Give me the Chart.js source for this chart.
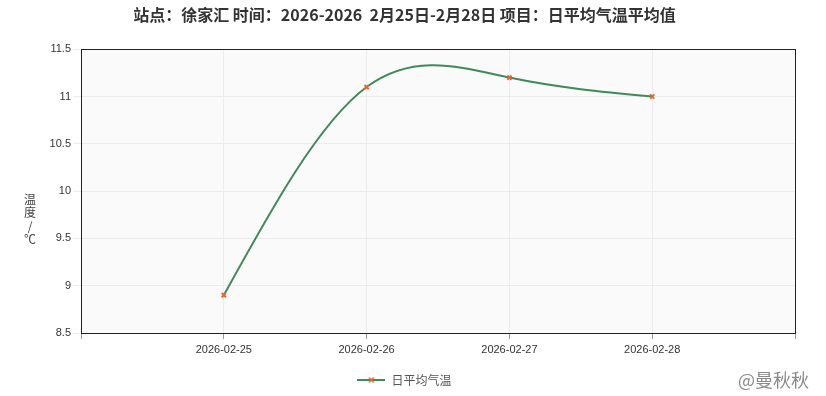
<!DOCTYPE html>
<html>
<head>
<meta charset="utf-8">
<script src="https://cdn.jsdelivr.net/npm/chart.js@4/dist/chart.umd.min.js"></script>
<style>
  html, body { margin: 0; padding: 0; background: #fff; }
</style>
</head>
<body>
<canvas id="myChart" width="826" height="396"></canvas>
<script>
// categories (blank slots at both ends, like the original)
var dates = ['', '2026-02-25', '2026-02-26', '2026-02-27', '2026-02-28', ''];
var avgTemp = [null, 8.9, 11.1, 11.2, 11.0, null];
var titleText = '站点：徐家汇 时间：2026-2026  2月25日-2月28日 项目：日平均气温平均值';
var yLabel = ['温', '度', '/', '℃'];

var lineColor = '#3f8a58';
var markColor = '#e8662e';
var latin = '"Liberation Sans", Arial, "Noto Sans CJK SC", sans-serif';
var cjk = '"Noto Sans CJK SC", "Liberation Sans", sans-serif';

// legend symbol: short line with the cross marker on it
var legendIcon = document.createElement('canvas');
legendIcon.width = 28;
legendIcon.height = 8;
(function () {
    var c = legendIcon.getContext('2d');
    c.strokeStyle = lineColor;
    c.lineWidth = 2;
    c.beginPath(); c.moveTo(0, 4); c.lineTo(28, 4); c.stroke();
    c.strokeStyle = markColor;
    c.lineWidth = 1.5;
    c.beginPath();
    c.moveTo(11.5, 1.5); c.lineTo(16.5, 6.5);
    c.moveTo(16.5, 1.5); c.lineTo(11.5, 6.5);
    c.stroke();
})();

// slopes of a natural cubic spline through the values (unit spacing)
function splineSlopes(v) {
    var n = v.length, M = new Array(n).fill(0);
    if (n > 2) {
        var a = [], b = [], c = [], d = [];
        for (var i = 1; i < n - 1; i++) {
            a.push(1); b.push(4); c.push(1);
            d.push(6 * (v[i - 1] - 2 * v[i] + v[i + 1]));
        }
        var m = d.length;
        for (var k = 1; k < m; k++) {
            var w = a[k] / b[k - 1];
            b[k] -= w * c[k - 1];
            d[k] -= w * d[k - 1];
        }
        var x = new Array(m);
        x[m - 1] = d[m - 1] / b[m - 1];
        for (k = m - 2; k >= 0; k--) x[k] = (d[k] - c[k] * x[k + 1]) / b[k];
        for (k = 0; k < m; k++) M[k + 1] = x[k];
    }
    var s = [];
    for (var j = 0; j < n; j++) {
        if (j < n - 1) s.push(v[j + 1] - v[j] - (2 * M[j] + M[j + 1]) / 6);
        else s.push(v[j] - v[j - 1] + (M[j - 1] + 2 * M[j]) / 6);
    }
    return s;
}

// replace Chart.js control points with natural-spline ones
var smoothLine = {
    id: 'smoothLine',
    beforeDatasetsDraw: function (chart) {
        var meta = chart.getDatasetMeta(0);
        var line = meta.dataset, yScale = chart.scales.y;
        line.updateControlPoints(chart.chartArea, 'x');
        var idx = [], vals = [];
        avgTemp.forEach(function (v, i) { if (v !== null) { idx.push(i); vals.push(v); } });
        var sl = splineSlopes(vals);
        for (var k = 0; k < idx.length; k++) {
            var p = meta.data[idx[k]];
            var dyPrev = yScale.getPixelForValue(vals[k] - sl[k] / 3) - p.y;
            var dyNext = yScale.getPixelForValue(vals[k] + sl[k] / 3) - p.y;
            if (k > 0) {
                var q = meta.data[idx[k - 1]];
                p.cp1x = p.x - (p.x - q.x) / 3;
                p.cp1y = p.y + dyPrev;
            }
            if (k < idx.length - 1) {
                var r = meta.data[idx[k + 1]];
                p.cp2x = p.x + (r.x - p.x) / 3;
                p.cp2y = p.y + dyNext;
            }
        }
    }
};

// plot background, frame, y label and watermark
var extras = {
    id: 'extras',
    beforeDraw: function (chart) {
        var a = chart.chartArea, c = chart.ctx;
        c.save();
        c.fillStyle = '#fafafa';
        c.fillRect(a.left, a.top, a.right - a.left, a.bottom - a.top);
        c.restore();
    },
    afterDraw: function (chart) {
        var a = chart.chartArea, c = chart.ctx;
        c.save();
        c.strokeStyle = '#222';
        c.lineWidth = 1;
        c.strokeRect(Math.round(a.left) + 0.5, Math.round(a.top) + 0.5,
            Math.round(a.right - a.left), Math.round(a.bottom - a.top));
        c.fillStyle = '#444';
        c.font = '12px ' + cjk;
        c.textAlign = 'center';
        c.textBaseline = 'middle';
        yLabel.forEach(function (ch, i) {
            c.fillText(ch, 30, 199 + i * 13.5);
        });
        c.fillStyle = '#8a8a8a';
        c.font = '18px ' + cjk;
        c.textAlign = 'left';
        c.fillText('@曼秋秋', 738, 380);
        c.restore();
    }
};

var ctx = document.getElementById('myChart').getContext('2d');
var chart = new Chart(ctx, {
    type: 'line',
    data: {
        labels: dates,
        datasets: [{
            label: '日平均气温',
            data: avgTemp,
            borderColor: lineColor,
            borderWidth: 2,
            backgroundColor: markColor,
            pointStyle: 'crossRot',
            pointRadius: 3,
            pointBorderColor: markColor,
            pointBorderWidth: 2,
            tension: 0.4,
            spanGaps: true,
            fill: false
        }]
    },
    options: {
        responsive: false,
        animation: false,
        devicePixelRatio: 1,
        layout: { padding: { left: 14, right: 31, top: 0, bottom: 0 } },
        plugins: {
            title: {
                display: true,
                text: titleText,
                color: '#333',
                font: { family: cjk, size: 16, weight: 'bold' },
                padding: { top: 5, bottom: 25 }
            },
            legend: {
                position: 'bottom',
                labels: {
                    color: '#555',
                    font: { family: cjk, size: 12 },
                    usePointStyle: true,
                    pointStyle: legendIcon,
                    pointStyleWidth: 28,
                    padding: 8,
                    generateLabels: function (chart) {
                        var items = Chart.defaults.plugins.legend.labels.generateLabels(chart);
                        items.forEach(function (it) { it.pointStyle = legendIcon; });
                        return items;
                    }
                }
            },
            tooltip: { enabled: false }
        },
        scales: {
            x: {
                afterFit: function (s) { s.height = 33; },
                grid: { color: '#ececec', tickColor: '#999', tickLength: 6 },
                border: { display: false },
                ticks: { color: '#333', font: { family: latin, size: 11 }, maxRotation: 0, autoSkip: false, padding: 4 }
            },
            y: {
                min: 8.5,
                max: 11.5,
                afterFit: function (s) { s.width = 67; },
                grid: { color: '#ececec', tickLength: 8 },
                border: { display: false },
                ticks: {
                    stepSize: 0.5, color: '#333', autoSkip: false,
                    font: { family: latin, size: 11 }, padding: 2,
                    callback: function (v) { return String(v); }
                }
            }
        }
    },
    plugins: [smoothLine, extras]
});
</script>
</body>
</html>
